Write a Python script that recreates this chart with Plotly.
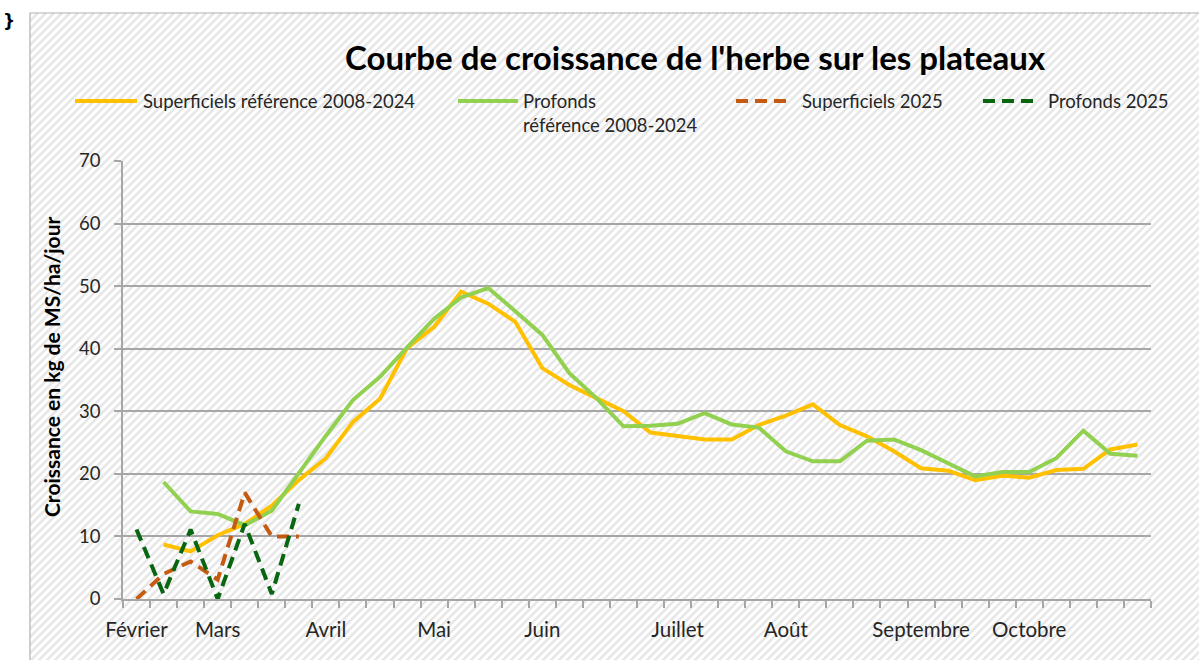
import plotly.graph_objects as go

# ---------------- data ----------------
weeks = list(range(38))
month_labels = ["Février", "Mars", "Avril", "Mai", "Juin", "Juillet", "Août", "Septembre", "Octobre"]
month_weeks = [0, 3, 7, 11, 15, 20, 24, 29, 33]

sup_ref = [None, 8.7, 7.6, 10.2, 12.0, 14.9, 19.0, 22.5, 28.3, 32.0, 40.1, 43.5, 49.1, 47.2, 44.3,
           36.9, 34.2, 32.1, 30.0, 26.6, 26.0, 25.5, 25.5, 27.8, 29.3, 31.1, 27.8, 26.0, 23.6,
           20.9, 20.5, 19.0, 19.7, 19.4, 20.6, 20.8, 23.9, 24.7]
prof_ref = [None, 18.7, 14.0, 13.6, 11.8, 14.1, 20.2, 26.1, 31.8, 35.5, 40.2, 44.8, 48.2, 49.7, 46.0,
            42.2, 36.1, 32.1, 27.6, 27.7, 28.0, 29.7, 27.9, 27.4, 23.6, 22.0, 22.0, 25.3, 25.5,
            23.8, 21.7, 19.6, 20.3, 20.3, 22.5, 26.9, 23.2, 22.9]
sup_2025 = [0.0, 4.0, 6.0, 3.1, 17.0, 10.0, 10.0]
prof_2025 = [11.1, 0.8, 11.1, 0.0, 12.0, 0.8, 15.2]

names = ["Superficiels référence 2008-2024", "Profonds<br>référence 2008-2024",
         "Superficiels 2025", "Profonds 2025"]
colors = ["#FFC000", "#92D050", "#C55A11", "#07660F"]
title_text = "Courbe de croissance de l'herbe sur les plateaux"
y_title = "Croissance en kg de MS/ha/jour"

FONT = "Lato"
DASH = "12px,7px"
GRID = "#A6A6A6"

# ---------------- geometry (pixels) ----------------
W, H = 1199, 660
L, R, T, B = 123, 1151, 161, 599


def px(x):
    return (x - L) / (R - L)


def py(y):
    return (B - y) / (B - T)


fig = go.Figure()
series = [(sup_ref, "solid"), (prof_ref, "solid"), (sup_2025, DASH), (prof_2025, DASH)]
for (vals, dash), name, col in zip(series, names, colors):
    fig.add_trace(go.Scatter(
        x=weeks[:len(vals)], y=vals, mode="lines", name=name.replace("<br>", " "),
        line=dict(color=col, width=4, dash=dash), cliponaxis=False,
        connectgaps=False, showlegend=False))

shapes = []
# hatched background
X0, Y0, X1, Y1 = 30, 13, W + 5, H + 5
step = 8
segs = []
c = X0 + Y0
while c < X1 + Y1:
    xa = max(X0, c - Y1)
    xb = min(X1, c - Y0)
    if xb > xa:
        segs.append("M{:.5f},{:.5f}L{:.5f},{:.5f}".format(px(xa), py(c - xa), px(xb), py(c - xb)))
    c += step
shapes.append(dict(type="path", xref="paper", yref="paper", path="".join(segs),
                   line=dict(color="#E7E7E7", width=2.6), layer="below"))
# frame
shapes.append(dict(type="rect", xref="paper", yref="paper", x0=px(X0), x1=px(X1),
                   y0=py(Y1), y1=py(Y0), line=dict(color="#B0B0B0", width=1.2),
                   fillcolor="rgba(0,0,0,0)", layer="below"))

annotations = []
# title
annotations.append(dict(text="<b>" + title_text + "</b>", xref="paper", yref="paper",
                        x=px(695), y=py(57), xanchor="center", yanchor="middle",
                        showarrow=False, font=dict(family=FONT, size=33, color="#000000")))
# y title
annotations.append(dict(text="<b>" + y_title + "</b>", xref="paper", yref="paper",
                        x=px(51), y=py(367), xanchor="center", yanchor="middle", textangle=-90,
                        showarrow=False, font=dict(family=FONT, size=21, color="#000000")))
# artefact glyph top-left
annotations.append(dict(text="<b>}</b>", xref="paper", yref="paper", x=px(9), y=py(21),
                        xanchor="center", yanchor="middle", showarrow=False,
                        font=dict(family="DejaVu Sans", size=17, color="#000000")))

# manual legend
leg_samples = [(75, 137), (458, 518), (736, 791), (983, 1037)]
leg_text_x = [141, 521, 800, 1046]
leg_y = 101
for (sx0, sx1), tx, name, col, (_, dash) in zip(leg_samples, leg_text_x, names, colors, series):
    shapes.append(dict(type="line", xref="paper", yref="paper", x0=px(sx0), x1=px(sx1),
                       y0=py(leg_y), y1=py(leg_y),
                       line=dict(color=col, width=4, dash=dash)))
    annotations.append(dict(text=name, xref="paper", yref="paper", x=px(tx), y=py(leg_y - 13),
                            xanchor="left", yanchor="top", align="left", showarrow=False,
                            font=dict(family=FONT, size=18.5, color="#262626")))

fig.update_layout(
    width=W, height=H, autosize=False,
    margin=dict(l=L, r=W - R, t=T, b=H - B, pad=0),
    paper_bgcolor="#FFFFFF", plot_bgcolor="rgba(0,0,0,0)",
    shapes=shapes, annotations=annotations, showlegend=False,
    font=dict(family=FONT, size=17, color="#262626"),
    xaxis=dict(range=[-0.5, 37.5], tickmode="array", tickvals=month_weeks, ticktext=month_labels,
               ticks="outside", ticklen=0, tickcolor=GRID, showgrid=False, zeroline=False,
               showline=True, linecolor=GRID, linewidth=1.6, ticklabelstandoff=12,
               tickfont=dict(family=FONT, size=20.5, color="#262626"),
               minor=dict(tickmode="array", tickvals=[k - 0.5 for k in range(39)],
                          ticks="outside", ticklen=7, tickcolor=GRID, tickwidth=1.6,
                          showgrid=False)),
    yaxis=dict(range=[0, 70], dtick=10, tick0=0, showgrid=True, gridcolor=GRID, gridwidth=1.6,
               zeroline=False, showline=True, linecolor=GRID, linewidth=1.6,
               ticks="outside", ticklen=7, tickcolor=GRID, tickwidth=1.6,
               ticklabelstandoff=10,
               tickfont=dict(family=FONT, size=18.5, color="#262626")),
)

fig.write_html("out.html", config={"displayModeBar": False},
               post_script="document.body.style.margin='0px';")
